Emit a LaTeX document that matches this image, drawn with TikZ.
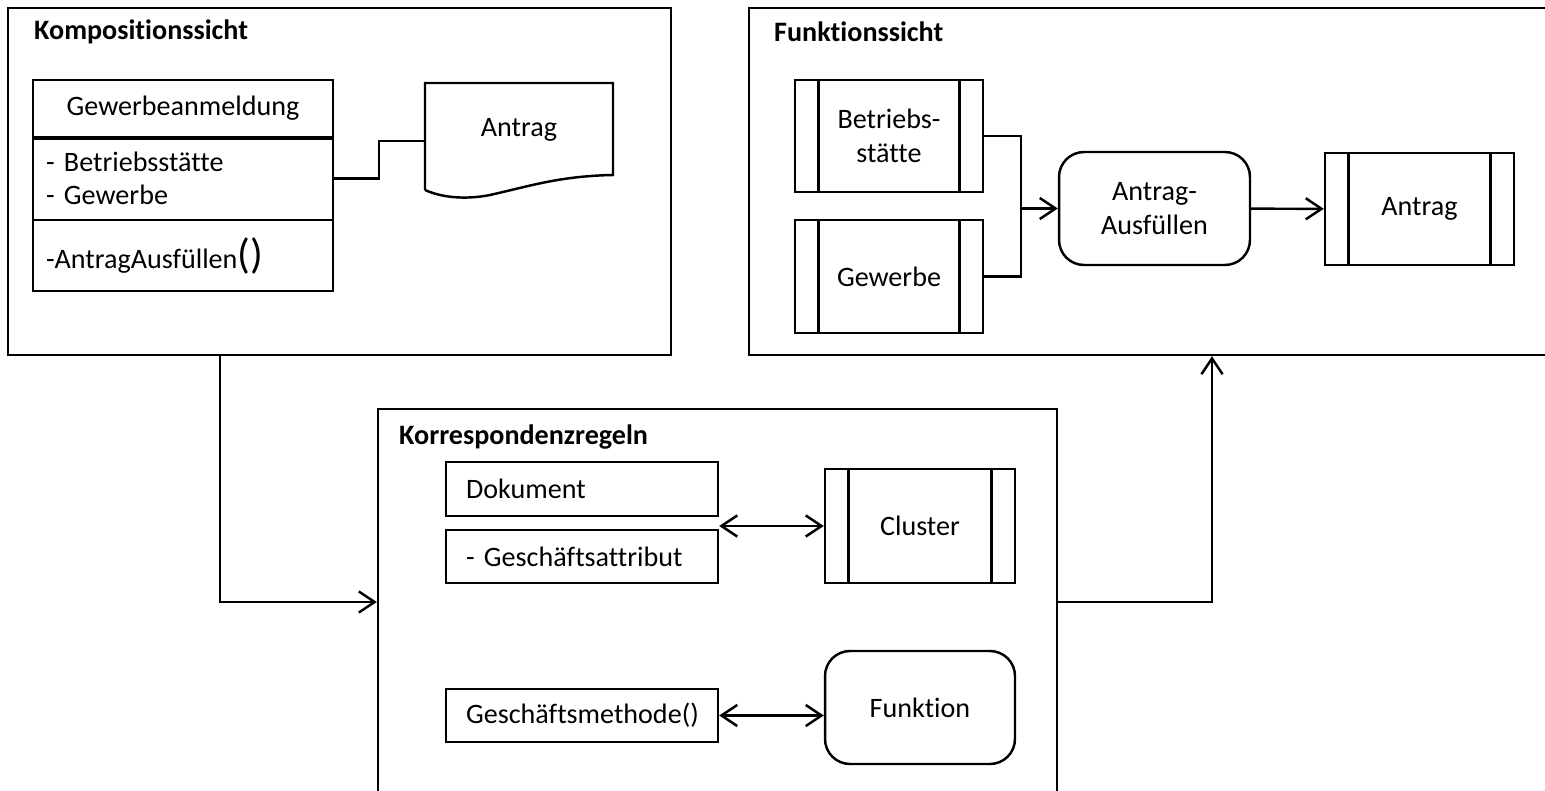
\documentclass[tikz,border=0pt]{standalone}
\usepackage{fontspec}
\setmainfont{Carlito}[Ligatures=NoCommon]
\usetikzlibrary{arrows.meta, positioning, shapes.geometric}

\begin{document}
\begin{tikzpicture}[x=0.02cm, y=-0.02cm, line width=1.4pt,
    >={Straight Barb[length=9pt, width=12pt]},
    every node/.style={font=\fontsize{16}{19}\selectfont},
    panel/.style={draw, minimum height=6.94cm},
    titel/.style={anchor=west, inner sep=0pt, font=\fontsize{16}{19}\selectfont\bfseries},
    attrbox/.style={draw, text width=4.64cm, inner xsep=0.4cm, align=left, minimum height=1.07cm},
    roundbox/.style={draw, rounded corners=0.5cm, align=center, minimum width=3.8cm, minimum height=2.26cm},
    procbox/.style={draw, align=center, minimum width=3.78cm, minimum height=2.24cm,
        path picture={
            \draw ([xshift=0.47cm]path picture bounding box.north west) -- ([xshift=0.47cm]path picture bounding box.south west);
            \draw ([xshift=-0.47cm]path picture bounding box.north east) -- ([xshift=-0.47cm]path picture bounding box.south east);
        }}]
    \useasboundingbox (0,0) rectangle (1545,791);

    % Kompositionssicht
    \node[panel, minimum width=13.26cm] (komp) at (339.5,181.5) {};
    \node[titel] (kompt) at (33,32) {Kompositionssicht};
    \node[draw, minimum width=6cm, minimum height=1.14cm] (ghead) at (183,108.5) {Gewerbeanmeldung};
    \node[draw, text width=5.48cm, inner xsep=0.26cm, align=left, minimum height=1.66cm] (gattr) at (183,178.5)
        {- Betriebsstätte\\- Gewerbe};
    \node[draw, text width=5.48cm, inner xsep=0.26cm, align=left, minimum height=1.42cm] (gmeth) at (183,255.5)
        {-AntragAusfüllen{\fontsize{24}{24}\selectfont()}};
    \draw[line width=2.4pt] (ghead.south west) -- (ghead.south east);

    % Dokument
    \node (dok) at (519,130) {Antrag};
    \coordinate (dokl) at (425,141);
    \draw (425,190) -- (425,83) -- (613,83) -- (613,175)
        .. controls (560,176) and (530,186) .. (490,195)
        .. controls (470,199) and (445,199) .. (425,190);
    \draw (gattr.east) -- ++(45,0) |- (dokl);

    % Funktionssicht
    \node[panel, minimum width=15.98cm] (funk) at (1148.5,181.5) {};
    \node[titel] (funkt) at (773,32) {Funktionssicht};
    \node[procbox, minimum width=3.76cm] (betr) at (889,136) {Betriebs-\\stätte};
    \node[procbox, minimum width=3.76cm, minimum height=2.26cm] (gew) at (889,276.5) {Gewerbe};
    \node[roundbox, minimum width=3.82cm] (ausf) at (1154.5,208.5) {Antrag-\\Ausfüllen};
    \node[procbox] (antrag) at (1419.5,209) {Antrag};
    \coordinate (join) at (1021,208.5);
    \draw (betr.east) -| (join);
    \draw (gew.east) -| (join);
    \draw[->] (join) -- (ausf.west);
    \draw[->] (ausf) -- (antrag);

    % Korrespondenzregeln
    \node[draw, minimum width=13.58cm, minimum height=7.72cm] (korr) at (717.5,602) {};
    \node[titel] (korrt) at (398,437) {Korrespondenzregeln};
    \node[attrbox] (kdok) at (582,489) {Dokument};
    \node[attrbox] (kattr) at (582,556.5) {- Geschäftsattribut};
    \node[attrbox] (gm) at (582,715.5) {Geschäftsmethode()};
    \node[procbox, minimum width=3.8cm, minimum height=2.28cm] (clus) at (920,526) {Cluster};
    \node[roundbox] (fkt) at (920,707.5) {Funktion};
    \draw[<->] (kattr.north east |- clus.west) -- (clus.west);
    \draw[<->] (gm.east) -- (gm.east -| fkt.west);

    % Verbindungen
    \coordinate (kx) at (220,0);
    \coordinate (fx) at (1212,0);
    \draw[->] (komp.south -| kx) |- (korr.west);
    \draw[->] (korr.east) -| (funk.south -| fx);
\end{tikzpicture}
\end{document}
